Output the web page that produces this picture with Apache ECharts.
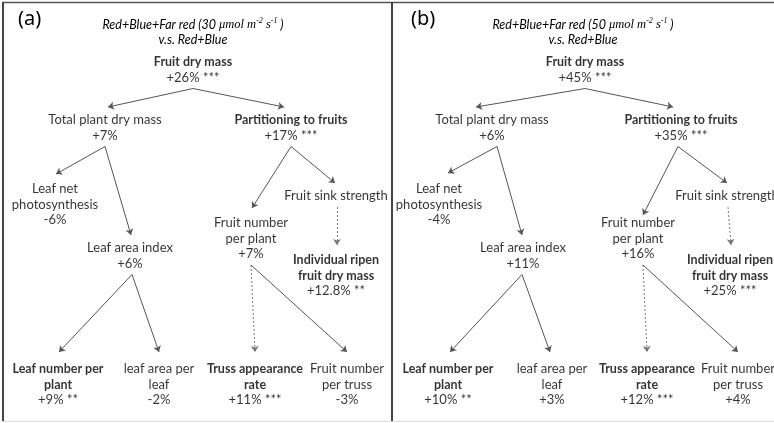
<!DOCTYPE html>
<html>
<head>
<meta charset="utf-8">
<script src="https://cdn.jsdelivr.net/npm/echarts@6/dist/echarts.min.js"></script>
<style>
  html, body { margin: 0; padding: 0; background: #fff; }
  #chart { width: 774px; height: 423px; }
</style>
</head>
<body>
<div id="chart"></div>
<script>
// Trait names in the yield-component tree (first line bold where flagged)
const traitNames = [
  'Fruit dry mass',
  'Total plant dry mass',
  'Partitioning to fruits',
  'Leaf net\nphotosynthesis',
  'Leaf area index',
  'Fruit sink strength',
  'Fruit number\nper plant',
  'Individual ripen\nfruit dry mass',
  'Leaf number per\nplant',
  'leaf area per\nleaf',
  'Truss appearance\nrate',
  'Fruit number\nper truss'
];
const boldTraits = [true, false, true, false, false, false, false, true, true, false, true, false];

// Relative change vs. Red+Blue, far red at 30 µmol m-2 s-1
const changeA = ['+26%', '+7%', '+17%', '-6%', '+6%', '', '+7%', '+12.8%', '+9%', '-2%', '+11%', '-3%'];
const signifA = ['***', '', '***', '', '', '', '', '**', '**', '', '***', ''];
// Relative change vs. Red+Blue, far red at 50 µmol m-2 s-1
const changeB = ['+45%', '+6%', '+35%', '-4%', '+11%', '', '+16%', '+25%', '+10%', '+3%', '+12%', '+4%'];
const signifB = ['***', '', '***', '', '', '', '', '***', '**', '', '***', ''];

// Causal links: [from, to, dotted]
const links = [
  [0, 1, false], [0, 2, false],
  [1, 3, false], [1, 4, false],
  [2, 6, false], [2, 5, false],
  [5, 7, true],
  [4, 8, false], [4, 9, false],
  [6, 10, true], [6, 11, false]
];

const panelTags = ['(a)', '(b)'];
const farRedLevels = ['30', '50'];

// ---- layout (diagram units = pixels of the page) ----
const LINE_H = 15.5;
const layoutA = [[193,62],[105,120],[291,120],[55,189],[130,248],[336,196],[251,223],[336,260],[58,369],[159,369],[255,369],[347,369]];
const layoutB = [[585,62],[492,120],[681,120],[439,189],[523,248],[727,196],[638,223],[730,260],[448,369],[552,369],[647,369],[738,369]];
// per-link arrow tweaks: [startDx, endDx, endGap]
const arrowA = [[0,3,13],[0,-7,13],[0,1,15],[0,1,13],[0,1,15],[0,-1,13],[1,1,15],[2,1,17],[2,0,17],[0,0,17],[0,0,17]];
const arrowB = [[0,-16,13],[0,-8,13],[5,9,16],[5,-1,13],[-3,5,8],[-3,0,13],[1,1,15],[-1,2,17],[-1,-2,17],[5,0,17],[5,0,17]];
const panelCenters = [188, 578];
const tagLeft = [13, 406];

const FONT = 'Lato';
const INK = '#000';

function lineCount(i) { return traitNames[i].split('\n').length + (changeA[i] !== '' ? 1 : 0); }

function nodeSeries(layout, change, signif) {
  const data = traitNames.map((name, i) => {
    const n = lineCount(i);
    return {
      value: [layout[i][0], layout[i][1] + (n - 1) * LINE_H / 2],
      idx: i, change: change[i], signif: signif[i]
    };
  });
  return {
    type: 'scatter',
    symbolSize: 0,
    silent: true,
    data: data,
    label: {
      show: true,
      position: 'inside',
      align: 'center',
      verticalAlign: 'middle',
      formatter: (p) => {
        const i = p.data.idx;
        const key = boldTraits[i] ? 'b' : 'n';
        const lines = traitNames[i].split('\n').map(s => '{' + key + '|' + s + '}');
        if (p.data.change) {
          lines.push('{n|' + p.data.change + (p.data.signif ? ' ' + p.data.signif : '') + '}');
        }
        return lines.join('\n');
      },
      rich: {
        b: { fontFamily: FONT, fontSize: 12.5, fontWeight: 'bold', color: INK, lineHeight: LINE_H, align: 'center' },
        n: { fontFamily: FONT, fontSize: 13, color: INK, lineHeight: LINE_H, align: 'center' }
      }
    },
    z: 3
  };
}

function arrowSeries(layout, arrow) {
  const data = links.map((l, k) => {
    const [s, t, dotted] = l;
    const sx = layout[s][0] + arrow[k][0];
    const sy = layout[s][1] + (lineCount(s) - 1) * LINE_H + 11;
    const tx = layout[t][0] + arrow[k][1];
    const ty = layout[t][1] - arrow[k][2];
    return {
      coords: [[sx, sy], [tx, ty]],
      lineStyle: dotted
        ? { type: [2, 2], color: '#777', width: 1 }
        : { type: 'solid', color: '#555', width: 1 }
    };
  });
  return {
    type: 'lines',
    coordinateSystem: 'cartesian2d',
    silent: true,
    symbol: ['none', 'arrow'],
    symbolSize: [0, 6],
    lineStyle: { color: '#555', width: 1, opacity: 1 },
    data: data,
    z: 2
  };
}

const chart = echarts.init(document.getElementById('chart'));

const titleRich = {
  i: { fontFamily: FONT, fontStyle: 'italic', fontWeight: 'normal', fontSize: 12.5, color: INK, lineHeight: 15 },
  u: { fontFamily: 'Liberation Serif', fontStyle: 'italic', fontWeight: 'normal', fontSize: 12.5, color: INK, lineHeight: 15 },
  s: { fontFamily: 'Liberation Serif', fontStyle: 'italic', fontWeight: 'normal', fontSize: 8, color: INK, lineHeight: 15, verticalAlign: 'top', padding: [0, 0, 4, 0] }
};

const titles = [];
panelTags.forEach((tag, p) => {
  titles.push({
    text: tag, left: tagLeft[p], top: 4,
    textStyle: { fontFamily: 'Noto Sans', fontSize: 20, fontWeight: 'normal', color: INK }
  });
  titles.push({
    text: '{i|Red+Blue+Far red (' + farRedLevels[p] + ' }{u|μmol m}{s|-2}{u| s}{s|-1}{i| )}\n{i|v.s. Red+Blue}',
    left: panelCenters[p], top: 12, textAlign: 'center',
    textStyle: { fontWeight: 'normal', align: 'center', rich: titleRich }
  });
});

chart.setOption({
  animation: false,
  backgroundColor: '#fff',
  title: titles,
  grid: { left: 0, right: 0, top: 0, bottom: 0 },
  xAxis: { type: 'value', min: 0, max: 774, show: false },
  yAxis: { type: 'value', min: 0, max: 423, inverse: true, show: false },
  series: [
    arrowSeries(layoutA, arrowA),
    arrowSeries(layoutB, arrowB),
    nodeSeries(layoutA, changeA, signifA),
    nodeSeries(layoutB, changeB, signifB)
  ],
  graphic: [
    { type: 'line', shape: { x1: 2, y1: 2.5, x2: 774, y2: 2.5 }, style: { stroke: '#555', lineWidth: 1.5 } },
    { type: 'line', shape: { x1: 3, y1: 2, x2: 3, y2: 421 }, style: { stroke: '#444', lineWidth: 2 } },
    { type: 'line', shape: { x1: 392, y1: 2, x2: 392, y2: 421 }, style: { stroke: '#444', lineWidth: 2 } },
    { type: 'line', shape: { x1: 2, y1: 421.5, x2: 774, y2: 421.5 }, style: { stroke: '#ddd', lineWidth: 1 } }
  ]
});
</script>
</body>
</html>
